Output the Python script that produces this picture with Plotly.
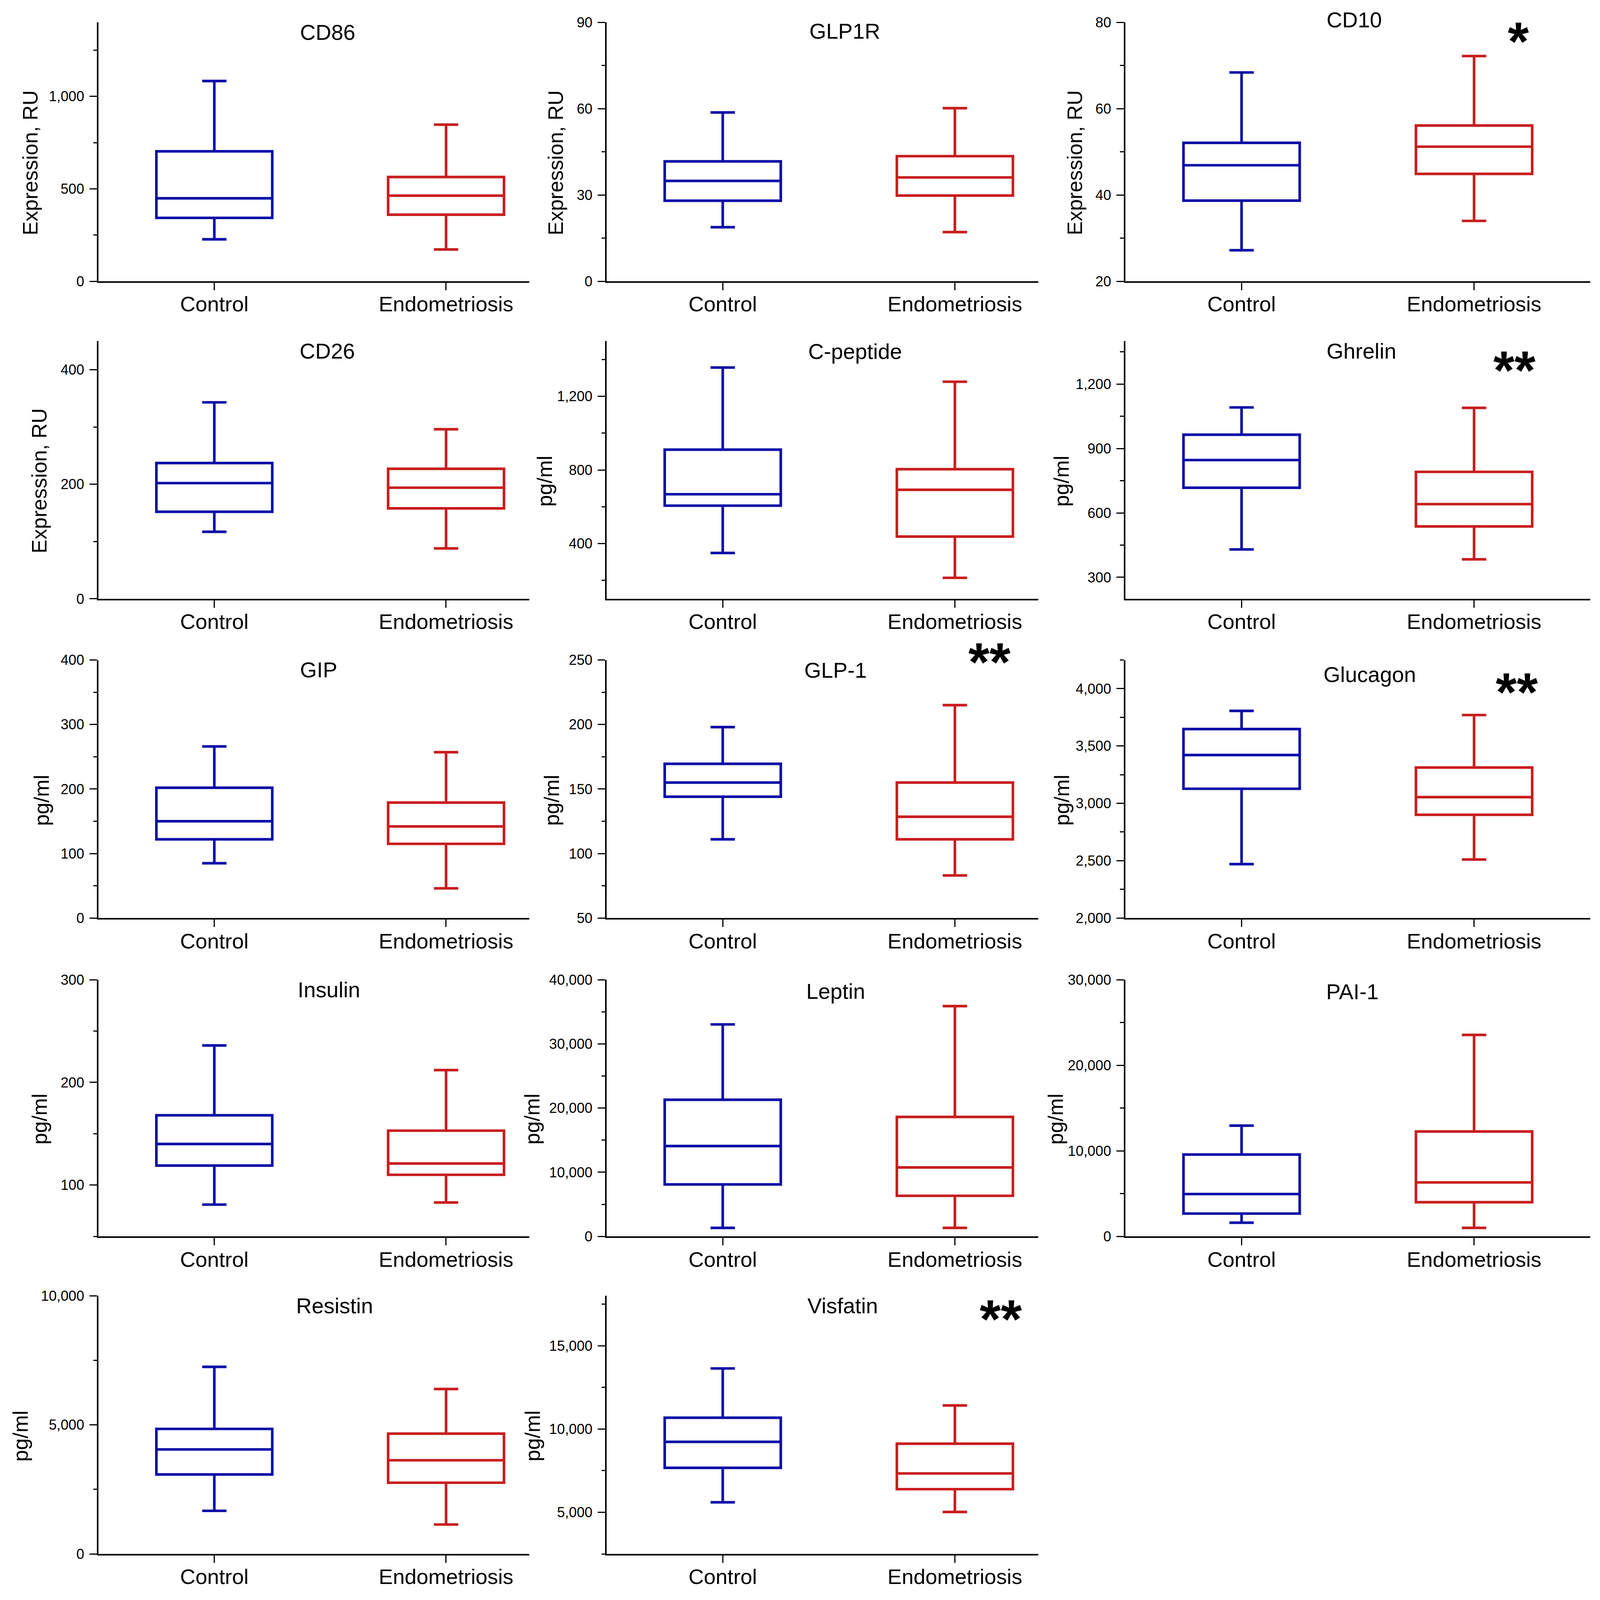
import plotly.graph_objects as go

# box plots, control vs endometriosis, 14 markers
panels = ["CD86", "GLP1R", "CD10", "CD26", "C-peptide", "Ghrelin", "GIP", "GLP-1",
          "Glucagon", "Insulin", "Leptin", "PAI-1", "Resistin", "Visfatin"]
units = ["Expression, RU"] * 4 + ["pg/ml"] * 10
stars = ["", "", "*", "", "", "**", "", "**", "**", "", "", "", "", "**"]
groups = ["Control", "Endometriosis"]

# values (min, quartiles, max)
control_min = [227, 18.8, 27.2, 117, 349, 430, 85, 111, 2470, 81, 1330, 1600, 1670, 5600]
control_q1 = [343, 28.0, 38.7, 152, 606, 717, 122, 144, 3127, 119, 8100, 2670, 3080, 7670]
control_med = [449, 34.9, 46.9, 202, 668, 846, 150, 155, 3421, 140, 14080, 4950, 4050, 9230]
control_q3 = [703, 41.7, 52.1, 237, 910, 964, 202, 169.5, 3648, 168, 21300, 9570, 4845, 10680]
control_max = [1083, 58.7, 68.4, 343, 1356, 1091, 266, 198, 3806, 236, 33040, 12950, 7250, 13640]

endo_min = [172, 17.1, 34.0, 88, 214, 384, 46, 83, 2510, 83, 1330, 1000, 1140, 5020]
endo_q1 = [360, 29.8, 44.9, 158, 438, 537, 115, 111, 2900, 110, 6330, 4000, 2760, 6390]
endo_med = [463, 36.1, 51.2, 194, 692, 641, 142, 128.5, 3054, 121, 10750, 6310, 3630, 7335]
endo_q3 = [564, 43.5, 56.1, 227, 804, 791, 179, 155, 3312, 153, 18620, 12260, 4660, 9120]
endo_max = [847, 60.2, 72.2, 296, 1279, 1089, 257, 215, 3770, 212, 35890, 23550, 6390, 11420]

# y axis: (low, high, major step, minor step)
y_axes = [(0, 1400, 500, 250), (0, 90, 30, 15), (20, 80, 20, 10),
          (0, 450, 200, 100), (100, 1500, 400, 200), (200, 1400, 300, 150),
          (0, 400, 100, 50), (50, 250, 50, 25), (2000, 4250, 500, 250),
          (50, 300, 100, 50), (0, 40000, 10000, 5000), (0, 30000, 10000, 5000),
          (0, 10000, 5000, 2500), (2500, 18000, 5000, 2500)]

W, H = 4291, 5647
S = 0.955  # px sizes scaled to the page width the browser gives
BLUE = "rgb(12,12,168)"
RED = "rgb(200,30,30)"
FONT = "Liberation Sans, Arial, sans-serif"

# panel frames in pixels of the picture
col_x = [(264, 1420), (1627, 2785), (3018, 4265)]
col_xrange = [[-0.5, 1.36], [-0.5, 1.36], [-0.5, 1.5]]
row_y = [(52, 975), (1188, 2107), (2325, 3245), (3465, 4380), (4592, 5512)]

# text positions in pixels
title_pos = [(879, 88), (2266, 84), (3632, 43), (878, 1224), (2293, 1225), (3651, 1224),
             (854, 2360), (2241, 2362), (3673, 2377), (882, 3501), (2241, 3506),
             (3627, 3508), (897, 4628), (2260, 4628)]
ytitle_x = [81, 1490, 2882, 105, 1461, 2847, 111, 1480, 2848, 107, 1428, 2832, 55, 1428]
star_pos = {2: (4072, 120), 5: (4062, 1292), 7: (2654, 2332), 8: (4068, 2440), 13: (2684, 4675)}

fig = go.Figure()
layout = {}
annotations = []

for i, name in enumerate(panels):
    n = i + 1
    r, c = divmod(i, 3)
    xa, ya = f"x{n}", f"y{n}"

    fig.add_trace(go.Box(
        x=[groups[0]], q1=[control_q1[i]], median=[control_med[i]], q3=[control_q3[i]],
        lowerfence=[control_min[i]], upperfence=[control_max[i]],
        xaxis=xa, yaxis=ya, line=dict(color=BLUE, width=7 * S),
        fillcolor="rgba(0,0,0,0)", width=0.5, whiskerwidth=0.21,
        boxpoints=False, showlegend=False, name=groups[0]))
    fig.add_trace(go.Box(
        x=[groups[1]], q1=[endo_q1[i]], median=[endo_med[i]], q3=[endo_q3[i]],
        lowerfence=[endo_min[i]], upperfence=[endo_max[i]],
        xaxis=xa, yaxis=ya, line=dict(color=RED, width=7 * S),
        fillcolor="rgba(0,0,0,0)", width=0.5, whiskerwidth=0.21,
        boxpoints=False, showlegend=False, name=groups[1]))

    x0, x1 = col_x[c]
    y0, y1 = row_y[r]
    lo, hi, step, mstep = y_axes[i]

    layout[f"xaxis{n}"] = dict(
        domain=[x0 / W, x1 / W], anchor=ya, type="category",
        categoryorder="array", categoryarray=groups, range=col_xrange[c],
        showline=True, linecolor="black", linewidth=4 * S, showgrid=False, zeroline=False,
        ticks="outside", ticklen=20 * S, tickwidth=3.5 * S, tickcolor="black",
        ticklabelstandoff=-11, tickfont=dict(family=FONT, size=57 * S, color="black"))
    layout[f"yaxis{n}"] = dict(
        domain=[1 - y1 / H, 1 - y0 / H], anchor=xa, range=[lo, hi],
        tick0=0, dtick=step, tickformat=",",
        showline=True, linecolor="black", linewidth=4 * S, showgrid=False, zeroline=False,
        ticks="outside", ticklen=20 * S, tickwidth=3.5 * S, tickcolor="black",
        ticklabelstandoff=6, tickfont=dict(family=FONT, size=38 * S, color="black"),
        minor=dict(ticks="outside", ticklen=10 * S, tickwidth=3 * S, tickcolor="black",
                   tick0=0, dtick=mstep, showgrid=False))

    tx, ty = title_pos[i]
    annotations.append(dict(text=name, x=tx / W, y=1 - ty / H, xref="paper", yref="paper",
                            showarrow=False, xanchor="center", yanchor="middle",
                            font=dict(family=FONT, size=58 * S, color="black")))
    annotations.append(dict(text=units[i], x=ytitle_x[i] / W,
                            y=1 - (y1 - 0.457 * (y1 - y0)) / H,
                            xref="paper", yref="paper", showarrow=False, textangle=-90,
                            xanchor="center", yanchor="middle",
                            font=dict(family=FONT, size=56 * S, color="black")))
    if stars[i]:
        sx, sy = star_pos[i]
        annotations.append(dict(text="<b>" + stars[i] + "</b>", x=sx / W, y=1 - sy / H,
                                xref="paper", yref="paper", showarrow=False,
                                xanchor="center", yanchor="middle",
                                font=dict(family=FONT, size=145 * S, color="black")))

fig.update_layout(layout)
fig.update_layout(
    autosize=True,
    margin=dict(l=0, r=0, t=0, b=0),
    paper_bgcolor="white", plot_bgcolor="white",
    annotations=annotations,
    showlegend=False
)

# fill the browser window exactly, whatever size it really has
fit = ("document.body.style.margin='0';document.body.style.overflow='hidden';"
       "var gd=document.getElementById('{plot_id}');"
       "gd.style.width='100vw';gd.style.height='100vh';Plotly.Plots.resize(gd);")

fig.write_html("out.html", default_width="100vw", default_height="100vh",
               config={"responsive": True, "displayModeBar": False}, post_script=fit)
